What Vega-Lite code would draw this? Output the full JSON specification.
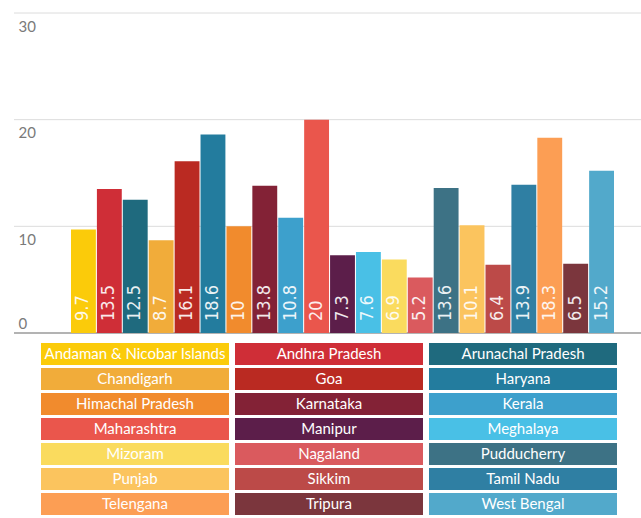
{
  "$schema": "https://vega.github.io/schema/vega-lite/v6.json",
  "width": 628,
  "height": 320,
  "padding": {"left": 13, "top": 12, "right": 0, "bottom": 0},
  "background": "white",
  "config": {"view": {"stroke": null}, "font": "Lato"},
  "datasets": {
    "states": [
      {"state": "Andaman & Nicobar Islands", "value": 9.7},
      {"state": "Andhra Pradesh", "value": 13.5},
      {"state": "Arunachal Pradesh", "value": 12.5},
      {"state": "Chandigarh", "value": 8.7},
      {"state": "Goa", "value": 16.1},
      {"state": "Haryana", "value": 18.6},
      {"state": "Himachal Pradesh", "value": 10},
      {"state": "Karnataka", "value": 13.8},
      {"state": "Kerala", "value": 10.8},
      {"state": "Maharashtra", "value": 20},
      {"state": "Manipur", "value": 7.3},
      {"state": "Meghalaya", "value": 7.6},
      {"state": "Mizoram", "value": 6.9},
      {"state": "Nagaland", "value": 5.2},
      {"state": "Pudducherry", "value": 13.6},
      {"state": "Punjab", "value": 10.1},
      {"state": "Sikkim", "value": 6.4},
      {"state": "Tamil Nadu", "value": 13.9},
      {"state": "Telengana", "value": 18.3},
      {"state": "Tripura", "value": 6.5},
      {"state": "West Bengal", "value": 15.2}
    ],
    "gridlines": [
      {"tick": 0}, {"tick": 10}, {"tick": 20}, {"tick": 30}
    ]
  },
  "layer": [
    {
      "data": {"name": "gridlines"},
      "mark": {"type": "rule"},
      "encoding": {
        "y": {"field": "tick", "type": "quantitative"},
        "stroke": {"condition": {"test": "datum.tick === 0", "value": "#9a9a9a"}, "value": "#dcdcdc"},
        "strokeWidth": {"condition": {"test": "datum.tick === 0", "value": 1.5}, "value": 1}
      }
    },
    {
      "data": {"name": "states"},
      "mark": {"type": "bar"},
      "encoding": {
        "x": {
          "field": "state", "type": "nominal", "sort": null,
          "scale": {"range": [57, 600], "paddingInner": 0.04, "paddingOuter": 0},
          "axis": null
        },
        "y": {
          "field": "value", "type": "quantitative",
          "scale": {"domain": [0, 30], "nice": false},
          "axis": {
            "title": null,
            "values": [0, 10, 20, 30],
            "domain": false,
            "ticks": false,
            "grid": false,
            "labelAlign": "left",
            "labelPadding": -4,
            "labelBaseline": "middle",
            "labelOffset": {"condition": {"test": "datum.value === 0", "value": -10}, "value": 13},
            "labelColor": "#7a7a7a",
            "labelFont": "Lato",
            "labelFontSize": 15
          }
        },
        "color": {
          "field": "state", "type": "nominal", "sort": null,
          "scale": {
            "domain": ["Andaman & Nicobar Islands", "Andhra Pradesh", "Arunachal Pradesh", "Chandigarh", "Goa", "Haryana", "Himachal Pradesh", "Karnataka", "Kerala", "Maharashtra", "Manipur", "Meghalaya", "Mizoram", "Nagaland", "Pudducherry", "Punjab", "Sikkim", "Tamil Nadu", "Telengana", "Tripura", "West Bengal"],
            "range": ["#FBCB0A", "#CF2E37", "#1F6A7E", "#F1AC3A", "#BA2A22", "#237C9E", "#F18B2D", "#832236", "#3DA0CC", "#EA564C", "#5C1E4A", "#49C0E6", "#FADB5E", "#DA5A5E", "#3D7285", "#FBC45E", "#BC4A48", "#2F7FA3", "#FC9E54", "#7B363D", "#52A9CB"]
          },
          "legend": {
            "title": null,
            "orient": "none",
            "legendX": 27,
            "legendY": 330,
            "direction": "horizontal",
            "columns": 3,
            "columnPadding": 6,
            "rowPadding": 3,
            "padding": 0,
            "symbolType": "M-8.545,-1H8.545V1H-8.545Z",
            "symbolSize": 484,
            "symbolOffset": 83,
            "symbolStrokeWidth": 0,
            "symbolOpacity": 1,
            "labelAlign": "center",
            "labelOffset": -11,
            "labelColor": "white",
            "labelFont": "Lato",
            "labelFontSize": 15,
            "labelLimit": 300
          }
        }
      }
    },
    {
      "data": {"name": "states"},
      "mark": {
        "type": "text", "angle": 270, "align": "left", "baseline": "middle",
        "dx": 12, "color": "white", "opacity": 0.9,
        "font": "Liberation Sans Narrow, DejaVu Sans Condensed", "fontSize": 18
      },
      "encoding": {
        "x": {"field": "state", "type": "nominal", "sort": null},
        "y": {"datum": 0, "type": "quantitative"},
        "text": {"field": "value", "type": "quantitative"}
      }
    }
  ]
}
